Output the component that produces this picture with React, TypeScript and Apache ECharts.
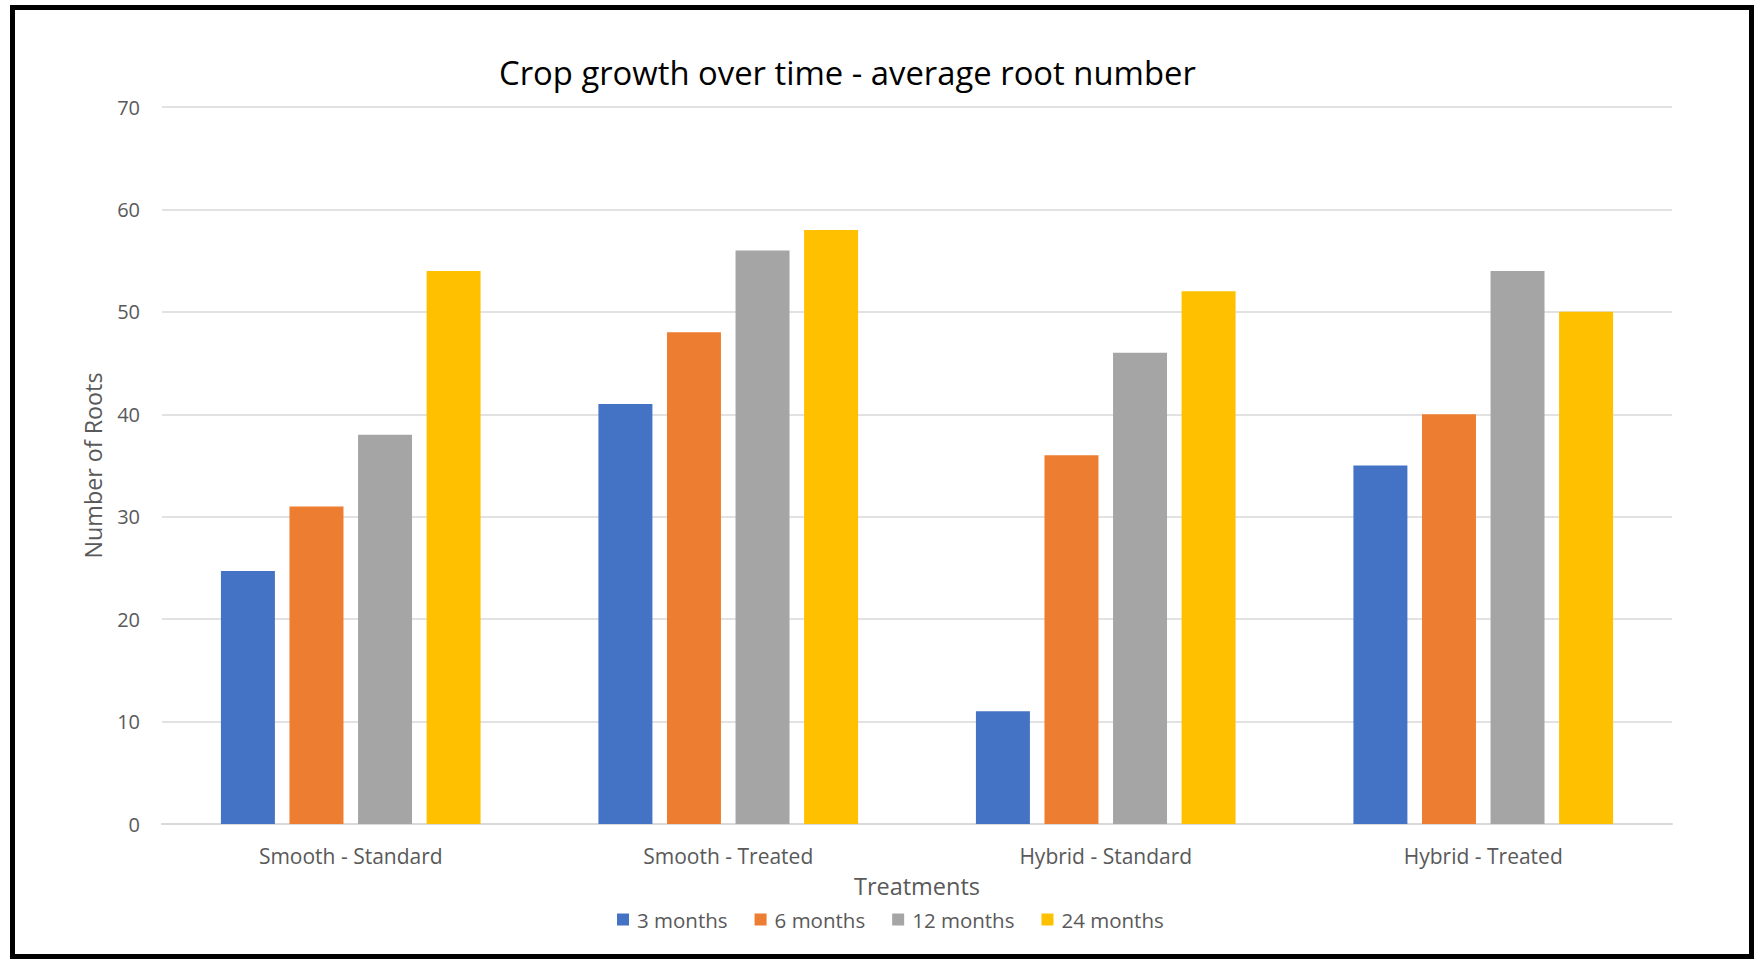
import React, { useEffect, useRef } from "react";
import * as echarts from "echarts";

const categories = ["Smooth - Standard", "Smooth - Treated", "Hybrid - Standard", "Hybrid - Treated"];
const seriesNames = ["3 months", "6 months", "12 months", "24 months"];
const months3 = [24.7, 41, 11, 35];
const months6 = [31, 48, 36, 40];
const months12 = [38, 56, 46, 54];
const months24 = [54, 58, 52, 50];
const yTicks = { min: 0, max: 70, interval: 10 };
const colors = ["#4472C4", "#ED7D31", "#A5A5A5", "#FFC000"];

const FONT = "Open Sans";
const TEXT = "#595959";

export default function App() {
  const ref = useRef<HTMLDivElement>(null);
  useEffect(() => {
    if (!ref.current) return;
    const chart = echarts.init(ref.current, undefined, { renderer: "svg" });
    const values = [months3, months6, months12, months24];
    chart.setOption({
      animation: false,
      backgroundColor: "#ffffff",
      color: colors,
      textStyle: { fontFamily: FONT },
      title: {
        text: "Crop growth over time - average root number",
        left: 499,
        top: 56,
        padding: 0,
        textStyle: { fontFamily: FONT, fontSize: 32.8, fontWeight: "normal", color: "#000000" },
      },
      grid: { left: 162, right: 82, top: 107, bottom: 135, containLabel: false },
      legend: {
        data: seriesNames,
        left: 612,
        top: 904,
        itemWidth: 12,
        itemHeight: 12,
        itemGap: 27,
        icon: "rect",
        textStyle: { fontFamily: FONT, fontSize: 20.5, color: TEXT, padding: [0, 0, 0, 3] },
      },
      xAxis: {
        type: "category",
        data: categories,
        name: "Treatments",
        nameLocation: "middle",
        nameGap: 50,
        nameTextStyle: { fontFamily: FONT, fontSize: 23.5, color: TEXT, verticalAlign: "top" },
        axisLine: { show: true, lineStyle: { color: "#D9D9D9", width: 2 } },
        axisTick: { show: false },
        axisLabel: { fontFamily: FONT, fontSize: 21, color: TEXT, margin: 21 },
      },
      yAxis: {
        type: "value",
        min: yTicks.min,
        max: yTicks.max,
        interval: yTicks.interval,
        name: "Number of Roots",
        nameLocation: "middle",
        nameGap: 58,
        nameTextStyle: { fontFamily: FONT, fontSize: 23.3, color: TEXT },
        axisLine: { show: false },
        axisTick: { show: false },
        axisLabel: { fontFamily: FONT, fontSize: 20, color: TEXT, margin: 22 },
        splitLine: { lineStyle: { color: "#D9D9D9", width: 1.5 } },
      },
      series: seriesNames.map((name, i) => ({
        name,
        type: "bar",
        data: values[i],
        barWidth: "14.3%",
        barGap: "27%",
        barCategoryGap: "31%",
        itemStyle: { color: colors[i] },
      })),
      graphic: [
        {
          type: "rect",
          shape: { x: 12.5, y: 7.5, width: 1739, height: 949 },
          style: { fill: "none", stroke: "#000000", lineWidth: 5 },
          silent: true,
        },
      ],
    });
    return () => chart.dispose();
  }, []);
  return (
    <div
      ref={ref}
      style={{ position: "fixed", left: 0, top: 0, width: 1754, height: 959, background: "#fff" }}
    />
  );
}
